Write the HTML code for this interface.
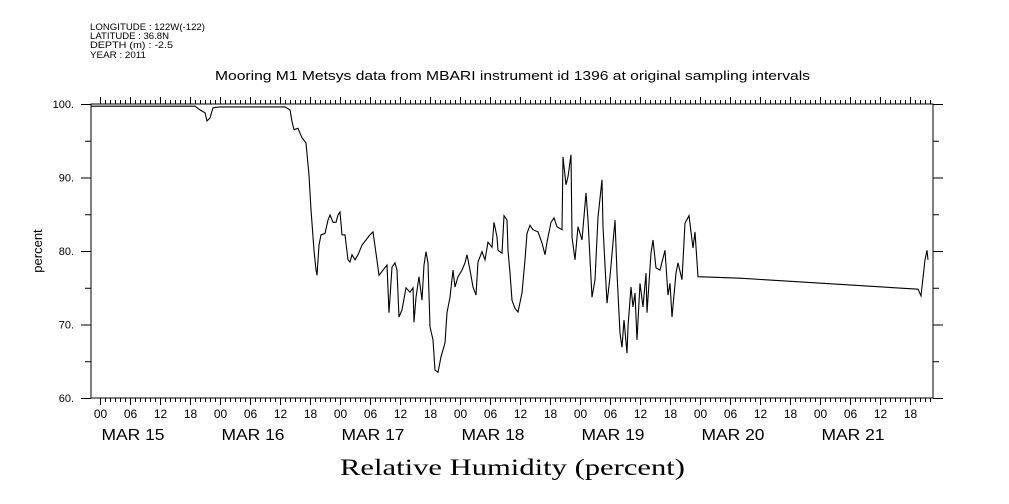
<!DOCTYPE html>
<html><head><meta charset="utf-8"><style>
body{margin:0;background:#fff;}
svg{display:block;font-family:"Liberation Sans",sans-serif;}
</style></head><body>
<svg id="chart" width="1009" height="504">
<g font-size="9" fill="#000">
<text x="90" y="30" textLength="115" lengthAdjust="spacingAndGlyphs">LONGITUDE : 122W(-122)</text>
<text x="90" y="39" textLength="79" lengthAdjust="spacingAndGlyphs">LATITUDE : 36.8N</text>
<text x="90" y="48" textLength="83" lengthAdjust="spacingAndGlyphs">DEPTH (m) : -2.5</text>
<text x="90" y="58" textLength="56" lengthAdjust="spacingAndGlyphs">YEAR : 2011</text>
</g>
<text x="215" y="80" textLength="595" lengthAdjust="spacingAndGlyphs" font-size="13">Mooring M1 Metsys data from MBARI instrument id 1396 at original sampling intervals</text>
<text transform="translate(42,251) rotate(-90)" text-anchor="middle" font-size="13">percent</text>
<text x="340" y="475" textLength="345" lengthAdjust="spacingAndGlyphs" font-size="23" font-family="Liberation Serif, serif">Relative Humidity (percent)</text>
<g id="axes"></g>
<path id="line" fill="none" stroke="#000" stroke-width="1.1"></path>
</svg>
<script>
const hours=[-1.8,19,20,21,21.4,22,22.6,24,37,38,38.4,38.8,39.6,40.4,41.2,41.8,42.2,42.8,43.2,43.4,43.8,44.2,45,45.6,46,46.6,47.2,47.6,48,48.4,49,49.6,50,50.4,51,51.6,52.4,53.2,54,54.6,55.2,55.8,57.4,57.8,58.4,59,59.4,59.8,60.4,61.2,62,62.6,62.8,63.2,63.8,64.4,64.8,65.2,65.6,66,66.6,67,67.6,68.2,69,69.4,70,70.6,71,71.6,72.4,73,73.4,74,74.6,75.2,75.6,76.4,77,77.6,78.4,78.8,79.4,79.6,80.4,80.8,81.4,81.6,82,82.4,83,83.6,84.4,85,85.4,86,86.6,87.6,88.4,89,89.4,90.2,90.8,91.4,92.4,92.6,93.2,93.6,94.2,94.4,95,95.6,96.4,97.2,97.6,98.4,99,99.6,100.4,100.6,101.4,102,103,103.4,104,104.4,104.8,105.4,105.6,106.2,106.6,107,107.4,108,108.6,109.2,109.4,110.2,110.6,111.2,112,113,113.6,114,114.4,115.2,115.6,116.4,117,117.8,118.6,119,119.6,128,163.6,164.2,165,165.4,165.6];
const values=[99.7,99.7,99.2,98.8,97.7,98.1,99.5,99.6,99.6,99.2,97.6,96.5,96.7,95.4,94.7,90.3,85.6,80.1,77.4,76.7,80.8,82.2,82.4,84.2,84.9,83.9,83.9,84.9,85.3,82.2,82.2,78.8,78.5,79.5,78.8,79.5,80.8,81.5,82.2,82.6,79.7,76.7,78.1,71.6,77.8,78.4,77.4,71.0,72.0,75.0,74.4,75.0,70.3,73.7,76.5,73.3,78.1,79.9,78.4,69.7,67.9,63.8,63.5,65.6,67.5,71.6,73.7,77.4,75.1,76.5,77.4,78.4,79.5,77.4,75.1,74.0,78.5,79.9,78.8,81.2,80.5,83.9,81.9,80.1,79.7,84.8,84.2,80.1,77.0,73.3,72.2,71.7,74.3,78.8,82.4,83.5,82.9,82.6,81.1,79.5,81.2,83.9,84.5,83.3,82.9,92.8,89.0,90.1,93.1,81.9,78.8,83.3,81.5,87.9,84.2,73.7,76.1,84.6,89.7,83.3,72.9,76.5,84.2,77.0,68.8,66.9,70.6,66.1,69.7,75.1,72.4,74.3,67.9,75.6,72.4,77.0,71.6,79.7,81.5,77.7,77.4,80.1,74.0,75.6,71.0,77.0,78.4,76.1,83.8,84.8,80.4,82.6,76.5,76.3,74.8,73.9,78.8,80.1,78.8];
const yTicks=[60,70,80,90,100];
const yTickLabels=["60.","70.","80.","90.","100."];
const dayLabels=["MAR 15","MAR 16","MAR 17","MAR 18","MAR 19","MAR 20","MAR 21"];
const hourLabels=["00","06","12","18"];

const X0=91,X1=933,Y0=104,Y1=398,H0=-1.8,H1=166.6;
const xs=h=>X0+(h-H0)/(H1-H0)*(X1-X0);
const ys=v=>Y1-(v-60)/40*(Y1-Y0);
const NS="http://www.w3.org/2000/svg";
const ax=document.getElementById('axes');
function ln(x1,y1,x2,y2){const l=document.createElementNS(NS,'line');l.setAttribute('x1',x1);l.setAttribute('y1',y1);l.setAttribute('x2',x2);l.setAttribute('y2',y2);l.setAttribute('stroke','#000');l.setAttribute('stroke-width','1');ax.appendChild(l);return l;}
function tx(x,y,s,size,anchor){const t=document.createElementNS(NS,'text');t.setAttribute('x',x);t.setAttribute('y',y);t.setAttribute('font-size',size);t.setAttribute('text-anchor',anchor);t.textContent=s;ax.appendChild(t);return t;}
const frame=document.createElementNS(NS,'rect');
frame.setAttribute('x',X0);frame.setAttribute('y',Y0);frame.setAttribute('width',X1-X0);frame.setAttribute('height',Y1-Y0);
frame.setAttribute('fill','none');frame.setAttribute('stroke','#000');


ax.appendChild(frame);
for(let v=60;v<=100;v+=5){const y=ys(v)+0.5;const big=v%10===0;
 const a=ln(big?X0-10:X0-6,y,X0,y);
 
 
 const b=ln(X1,y,big?X1+10:X1+6,y);
 
 }
yTicks.forEach((v,i)=>{const t=tx(74,ys(v)+4,yTickLabels[i],11,'end');
 
 });
for(let h=0;h<=H1;h+=1){const x=Math.round(xs(h))+0.5;const big=h%6===0;
 const a=ln(x,Y0-(big?7:4),x,Y0);
 
 
 const b=ln(x,Y1,x,Y1+(big?7:4));
 
 
 if(big){const t=tx(x,418,hourLabels[(h/6)%4],12,'middle');
  
  }}
dayLabels.forEach((d,i)=>{const t=tx(xs(i*24+6.5)-31,440,d,16,'start');
 t.setAttribute('textLength','63');
 t.setAttribute('lengthAdjust','spacingAndGlyphs');
 
 });
let p='';hours.forEach((h,i)=>{p+=(i?'L':'M')+xs(h).toFixed(1)+','+ys(values[i]).toFixed(1);});
document.getElementById('line').setAttribute('d',p);
</script>
</body></html>
